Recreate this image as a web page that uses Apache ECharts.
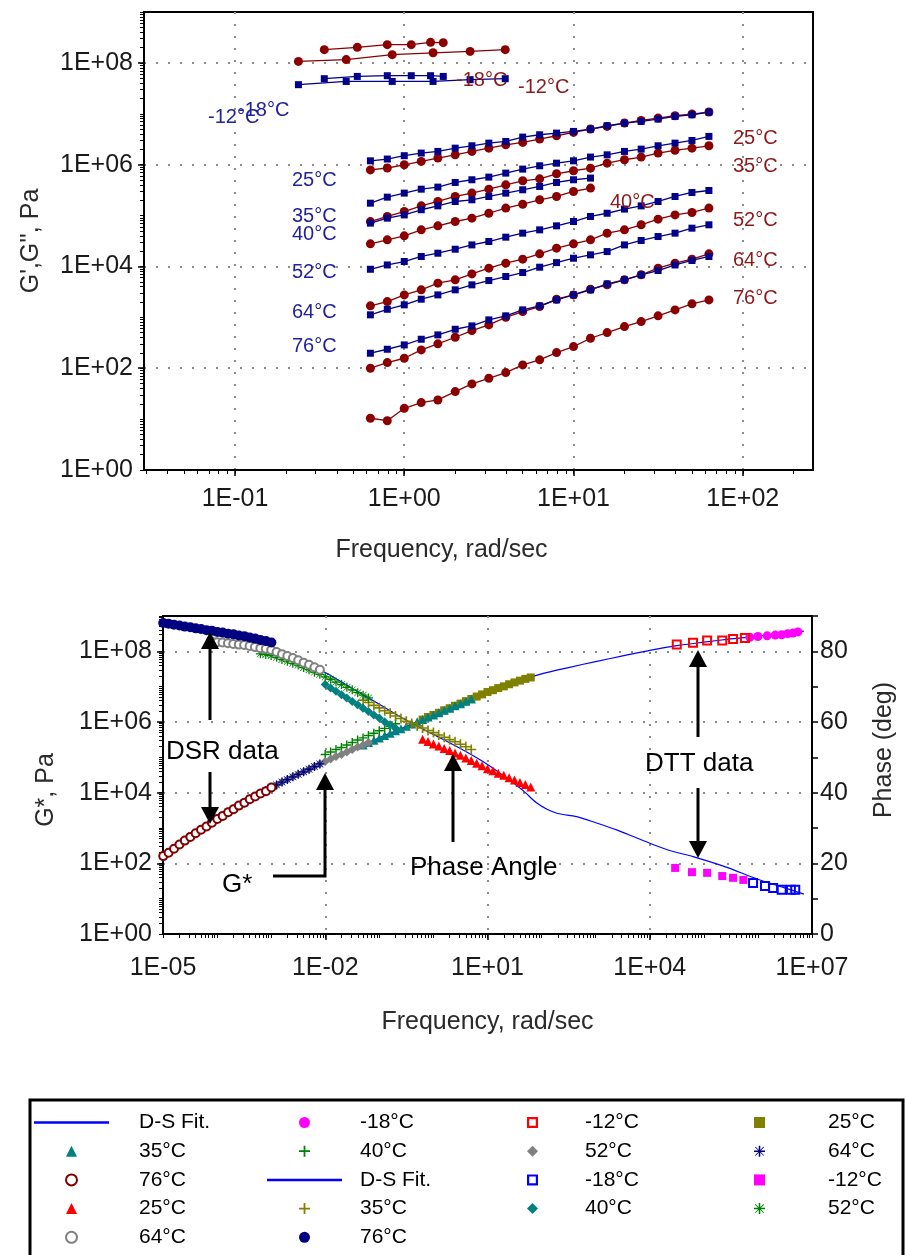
<!DOCTYPE html>
<html>
<head>
<meta charset="utf-8">
<title>DSR / DTT frequency sweeps and master curves</title>
<script src="https://cdn.jsdelivr.net/npm/echarts@6.0.0/dist/echarts.min.js"></script>
<style>
html,body{margin:0;padding:0;background:#ffffff;}
#chart{width:906px;height:1255px;}
</style>
</head>
<body>
<div id="chart"></div>
<script>
// ================= TOP CHART DATA (G' red circles, G'' blue squares) =================
const freqDSR  = [0.631, 0.794, 1.0, 1.26, 1.58, 2.0, 2.51, 3.16, 3.98, 5.01, 6.31, 7.94, 10.0, 12.6, 15.8, 20.0, 25.1, 31.6, 39.8, 50.1, 63.1];
const freqDttA = [0.337, 0.528, 0.794, 1.10, 1.43, 1.70];   // -18°C sweep
const freqDttB = [0.237, 0.454, 0.849, 1.48, 2.45, 3.95];   // -12°C sweep

const gStoreM18 = [1.82e8, 2.02e8, 2.28e8, 2.28e8, 2.53e8, 2.50e8];
const gLossM18  = [4.89e7, 5.42e7, 5.60e7, 5.60e7, 5.60e7, 5.42e7];
const gStoreM12 = [1.07e8, 1.16e8, 1.45e8, 1.58e8, 1.68e8, 1.82e8];
const gLossM12  = [3.73e7, 4.32e7, 4.32e7, 4.32e7, 4.68e7, 4.89e7];

const gStore25 = [7.9e5, 8.6e5, 9.95e5, 1.16e6, 1.35e6, 1.56e6, 1.82e6, 2.11e6, 2.46e6, 2.74e6, 3.18e6, 3.70e6, 4.31e6, 5.00e6, 5.65e6, 6.56e6, 7.41e6, 8.22e6, 9.14e6, 9.86e6, 1.08e7];
const gLoss25  = [1.19e6, 1.29e6, 1.50e6, 1.69e6, 1.82e6, 2.11e6, 2.35e6, 2.65e6, 2.86e6, 3.48e6, 3.87e6, 4.17e6, 4.50e6, 5.00e6, 5.82e6, 6.56e6, 7.08e6, 7.87e6, 8.87e6, 9.57e6, 1.08e7];
const gStore35 = [7.6e4, 9.6e4, 1.20e5, 1.55e5, 1.89e5, 2.37e5, 2.76e5, 3.30e5, 4.02e5, 4.82e5, 5.27e5, 6.62e5, 7.59e5, 8.55e5, 1.07e6, 1.25e6, 1.41e6, 1.69e6, 1.91e6, 2.11e6, 2.35e6];
const gLoss35  = [1.75e5, 2.30e5, 2.76e5, 3.30e5, 3.62e5, 4.47e5, 5.05e5, 5.69e5, 6.82e5, 8.18e5, 9.51e5, 1.07e6, 1.19e6, 1.41e6, 1.56e6, 1.82e6, 2.02e6, 2.35e6, 2.65e6, 2.99e6, 3.59e6];
const gStore40 = [2.78e4, 3.33e4, 3.99e4, 5.24e4, 6.28e4, 7.64e4, 8.89e4, 1.11e5, 1.40e5, 1.67e5, 2.04e5, 2.37e5, 2.97e5, 3.46e5];
const gLoss40  = [7.1e4, 8.9e4, 1.03e5, 1.30e5, 1.55e5, 1.89e5, 2.04e5, 2.37e5, 2.76e5, 3.21e5, 3.73e5, 4.47e5, 5.05e5, 5.45e5];
const gStore52 = [1.68e3, 2.04e3, 2.76e3, 3.47e3, 4.69e3, 5.45e3, 7.14e3, 9.25e3, 1.16e4, 1.39e4, 1.77e4, 2.29e4, 2.78e4, 3.33e4, 4.51e4, 5.24e4, 6.58e4, 8.49e4, 1.03e5, 1.15e5, 1.40e5];
const gLoss52  = [8.8e3, 1.07e4, 1.25e4, 1.57e4, 1.82e4, 2.18e4, 2.65e4, 3.09e4, 3.76e4, 4.51e4, 5.24e4, 6.28e4, 7.64e4, 9.6e4, 1.11e5, 1.34e5, 1.55e5, 1.89e5, 2.37e5, 2.84e5, 3.11e5];
const gStore64 = [100, 129, 157, 229, 301, 406, 550, 710, 1000, 1300, 1630, 2270, 2760, 3570, 4350, 5450, 6840, 9250, 11600, 13900, 17700];
const gLoss64  = [1120, 1440, 1760, 2270, 2760, 3470, 4350, 5280, 6340, 7590, 9660, 11900, 14500, 16900, 19600, 26500, 32400, 38700, 45100, 56500, 65800];
const gStore76 = [10.4, 9.3, 16.3, 21.1, 23.8, 34.7, 49.1, 63.4, 82.0, 116, 146, 203, 266, 388, 501, 658, 826, 1070, 1400, 1840, 2200];
const gLoss76  = [197, 236, 287, 371, 452, 583, 679, 891, 1070, 1400, 1680, 2200, 2760, 3470, 4540, 5450, 6840, 8320, 10700, 13100, 15700];

// ================= BOTTOM CHART DATA (master curves, reduced frequency) =================
// shift factors aT (reference 25°C)
const aT76 = 1.6e-5, aT64 = 1.26e-4, aT52 = 1.0e-3, aT40 = 1.58e-2, aT35 = 7.94e-2, aT25 = 1.0;

const gStar76 = [160, 200, 260, 340, 440, 560, 710, 890, 1100, 1400, 1800, 2200, 2800, 3400, 4300, 5200, 6500, 7800, 9500, 11000, 14000];
const gStar64 = [1400, 1800, 2200, 2800, 3400, 4300, 5200, 6500, 7800, 9500, 11500, 14000, 16600, 20000, 23400, 28000, 33000, 39000, 46000, 55000, 65000];
const gStar52 = [9500, 11500, 14000, 16600, 20000, 23400, 28000, 33000, 39000, 46000, 55000, 65000, 76000, 89000, 105000, 120000, 141000, 166000, 195000, 224000, 263000];
const gStar40 = [120000, 141000, 166000, 190000, 224000, 263000, 309000, 355000, 417000, 479000, 562000, 661000, 759000, 891000];
const gStar35 = [224000, 263000, 302000, 355000, 417000, 479000, 562000, 646000, 759000, 871000, 1020000, 1170000, 1380000, 1580000, 1820000, 2140000, 2450000, 2880000, 3310000, 3890000, 4470000];
const gStar25 = [1.17e6, 1.38e6, 1.58e6, 1.82e6, 2.14e6, 2.45e6, 2.88e6, 3.31e6, 3.89e6, 4.47e6, 5.25e6, 6.03e6, 7.08e6, 7.94e6, 9.12e6, 1.02e7, 1.17e7, 1.32e7, 1.48e7, 1.66e7, 1.82e7];

const phase76 = [88.0, 87.8, 87.5, 87.3, 87.0, 86.8, 86.5, 86.3, 86.0, 85.8, 85.5, 85.3, 85.0, 84.8, 84.5, 84.3, 83.9, 83.6, 83.2, 82.9, 82.5];
const phase64 = [82.8, 82.6, 82.5, 82.3, 82.1, 81.9, 81.8, 81.5, 81.2, 80.9, 80.7, 80.4, 79.8, 79.2, 78.7, 78.1, 77.5, 76.8, 76.2, 75.5, 74.8];
const phase52 = [79.3, 79.1, 78.8, 78.3, 77.7, 77.2, 76.6, 76.1, 75.4, 74.8, 74.1, 73.5, 72.8, 72.1, 71.3, 70.6, 69.8, 69.1, 68.3, 67.6, 66.8];
const phase40 = [70.6, 69.6, 68.7, 67.7, 66.8, 65.8, 64.9, 63.9, 63.0, 62.0, 61.1, 60.1, 59.2, 58.2];
const phase35 = [66.2, 65.5, 64.7, 64.0, 63.2, 62.5, 61.7, 61.0, 60.2, 59.6, 58.9, 58.3, 57.6, 57.0, 56.3, 55.7, 55.0, 54.4, 53.7, 53.0, 52.2];
const phase25 = [55.1, 54.5, 53.8, 53.2, 52.5, 51.9, 51.2, 50.6, 49.8, 49.1, 48.3, 47.6, 46.8, 46.2, 45.5, 44.9, 44.2, 43.6, 42.9, 42.3, 41.6];

// DTT data
const dttFreqM18G  = [7.08e5, 1.0e6, 1.48e6, 2.09e6, 2.75e6, 3.55e6, 4.47e6, 5.50e6];
const dttGStarM18  = [2.51e8, 2.63e8, 2.75e8, 2.88e8, 2.95e8, 3.16e8, 3.31e8, 3.55e8];
const dttFreqM12G  = [3.16e4, 6.31e4, 1.15e5, 2.19e5, 3.47e5, 5.75e5];
const dttGStarM12  = [1.55e8, 1.74e8, 2.04e8, 2.04e8, 2.24e8, 2.40e8];
const dttFreqM18P  = [8.13e5, 1.35e6, 1.91e6, 2.75e6, 4.07e6, 4.90e6];
const dttPhaseM18  = [14.4, 13.6, 13.0, 12.5, 12.5, 12.5];
const dttFreqM12P  = [2.95e4, 6.03e4, 1.15e5, 2.19e5, 3.47e5, 5.37e5];
const dttPhaseM12  = [18.7, 17.5, 17.3, 16.4, 15.9, 15.3];

// D-S fit curves
const fitFreqG  = [1e-5, 3.16e-5, 1e-4, 3.16e-4, 1e-3, 3.16e-3, 1e-2, 3.16e-2, 0.1, 0.316, 1, 3.16, 10, 31.6, 100, 316, 1000, 3162, 1e4, 3.16e4, 1e5, 3.16e5, 1e6, 3.16e6, 7.08e6];
const fitGStar  = [160, 560, 1800, 5200, 14000, 33000, 76000, 1.66e5, 3.55e5, 7.6e5, 1.58e6, 3.31e6, 7.08e6, 1.32e7, 2.29e7, 3.47e7, 5.13e7, 7.41e7, 1.07e8, 1.45e8, 1.82e8, 2.24e8, 2.69e8, 3.24e8, 3.72e8];
const fitFreqP  = [1e-5, 3.16e-5, 1e-4, 3.16e-4, 1e-3, 3.16e-3, 1e-2, 3.16e-2, 0.1, 0.316, 1, 3.16, 10, 31.6, 50.1, 79.4, 126, 200, 447, 1000, 2512, 1e4, 2.51e4, 6.31e4, 2.51e5, 1e6, 2.51e6, 7.08e6];
const fitPhase  = [88.0, 86.5, 85.0, 83.5, 81.5, 78.0, 74.0, 69.5, 65.0, 60.5, 56.5, 52.5, 48.0, 42.5, 40.0, 37.2, 35.3, 34.1, 33.2, 31.5, 29.4, 25.7, 23.5, 21.9, 19.0, 15.5, 13.5, 11.3];

// tick label values
const topXLabelValues = [0.1, 1, 10, 100];
const topYLabelValues = [1, 1e2, 1e4, 1e6, 1e8];
const topYGridValues  = [1e2, 1e4, 1e6, 1e8];
const botXLabelValues = [1e-5, 1e-2, 1e1, 1e4, 1e7];
const botXGridValues  = [1e-2, 1e1, 1e4];
const botYLabelValues = [1, 1e2, 1e4, 1e6, 1e8];
const phaseLabelValues = [0, 20, 40, 60, 80];

// legend columns (display order, column by column)
const legendCol1 = ['G* D-S Fit.', 'G* 35°C', 'G* 76°C', 'Phase 25°C', 'Phase 64°C'];
const legendCol2 = ['G* -18°C', 'G* 40°C', 'Phase D-S Fit.', 'Phase 35°C', 'Phase 76°C'];
const legendCol3 = ['G* -12°C', 'G* 52°C', 'Phase -18°C', 'Phase 40°C'];
const legendCol4 = ['G* 25°C', 'G* 64°C', 'Phase -12°C', 'Phase 52°C'];

// ================= helpers =================
const FONT = "'Liberation Sans', Arial, Helvetica, sans-serif";
function pairs(xs, ys) { return ys.map((y, i) => [xs[i], y]); }
function reduced(aT, n) { return freqDSR.slice(0, n).map(f => f * aT); }
function expLabel(v) {
  const e = Math.round(Math.log10(v));
  return '1E' + (e < 0 ? '-' : '+') + String(Math.abs(e)).padStart(2, '0');
}
function minorTicks(lo, hi) {
  const out = [];
  for (let k = -6; k <= 9; k++) for (let m = 1; m <= 9; m++) {
    const v = +(m * Math.pow(10, k)).toPrecision(6);
    if (v >= lo * 0.9999 && v <= hi * 1.0001) out.push(v);
  }
  return out;
}

const SYM_SQ   = 'path://M0,0L10,0L10,10L0,10Z';
const SYM_OSQ  = 'path://M0,0L10,0L10,10L0,10ZM2,2L2,8L8,8L8,2Z';
const SYM_TRI  = 'path://M5,0L10,10L0,10Z';
const SYM_DIA  = 'path://M5,0L10,5L5,10L0,5Z';
const SYM_PLUS = 'path://M4.2,0L5.8,0L5.8,10L4.2,10ZM0,4.2L10,4.2L10,5.8L0,5.8Z';
const SYM_STAR = 'path://M4.3,0L5.7,0L5.7,10L4.3,10ZM0,4.3L10,4.3L10,5.7L0,5.7ZM1.4,0.9L9.1,8.6L8.6,9.1L0.9,1.4ZM8.6,0.9L9.1,1.4L1.4,9.1L0.9,8.6Z';
const ICON_LINE = 'path://M0,0L75,0L75,2.5L0,2.5Z';

const RED_T = '#8b0000', BLUE_T = '#00008b';

// ================= series =================
const series = [];
function topLine(name, xs, ys, isStorage) {
  series.push({
    name, type: 'line', xAxisIndex: 0, yAxisIndex: 0,
    data: pairs(xs, ys),
    symbol: isStorage ? 'circle' : 'rect',
    symbolSize: isStorage ? 9 : 7,
    showSymbol: true,
    lineStyle: { color: isStorage ? RED_T : BLUE_T, width: 1.3 },
    itemStyle: { color: isStorage ? RED_T : BLUE_T },
    z: 3
  });
}
topLine("top G' -18", freqDttA, gStoreM18, true);
topLine("top G'' -18", freqDttA, gLossM18, false);
topLine("top G' -12", freqDttB, gStoreM12, true);
topLine("top G'' -12", freqDttB, gLossM12, false);
topLine("top G' 25", freqDSR, gStore25, true);
topLine("top G'' 25", freqDSR, gLoss25, false);
topLine("top G' 35", freqDSR, gStore35, true);
topLine("top G'' 35", freqDSR, gLoss35, false);
topLine("top G' 40", freqDSR.slice(0, 14), gStore40, true);
topLine("top G'' 40", freqDSR.slice(0, 14), gLoss40, false);
topLine("top G' 52", freqDSR, gStore52, true);
topLine("top G'' 52", freqDSR, gLoss52, false);
topLine("top G' 64", freqDSR, gStore64, true);
topLine("top G'' 64", freqDSR, gLoss64, false);
topLine("top G' 76", freqDSR, gStore76, true);
topLine("top G'' 76", freqDSR, gLoss76, false);

function fitLine(name, xs, ys, yIdx) {
  series.push({
    name, type: 'line', xAxisIndex: 2, yAxisIndex: yIdx,
    data: pairs(xs, ys), symbol: 'none', smooth: 0.3,
    lineStyle: { color: '#0000ff', width: 1.2 }, itemStyle: { color: '#0000ff' }, z: 2
  });
}
function scat(name, xs, ys, yIdx, sym, color, size) {
  const s = {
    name, type: 'scatter', xAxisIndex: 2, yAxisIndex: yIdx,
    data: pairs(xs, ys), symbol: sym, symbolSize: size || 7,
    itemStyle: { color: color, opacity: 1 }, z: 3
  };
  if (sym === 'emptyCircle') s.itemStyle.borderWidth = 1.6;
  series.push(s);
}
fitLine('G* D-S Fit.', fitFreqG, fitGStar, 2);
scat('G* -18°C', dttFreqM18G, dttGStarM18, 2, 'circle', '#ff00ff', 9);
scat('G* -12°C', dttFreqM12G, dttGStarM12, 2, SYM_OSQ, '#ff0000', 10);
scat('G* 25°C', reduced(aT25, 21), gStar25, 2, SYM_SQ, '#808000', 8);
scat('G* 35°C', reduced(aT35, 21), gStar35, 2, SYM_TRI, '#008080', 9);
scat('G* 40°C', reduced(aT40, 14), gStar40, 2, SYM_PLUS, '#008000', 9);
scat('G* 52°C', reduced(aT52, 21), gStar52, 2, SYM_DIA, '#808080', 9);
scat('G* 64°C', reduced(aT64, 21), gStar64, 2, SYM_STAR, '#000080', 9);
scat('G* 76°C', reduced(aT76, 21), gStar76, 2, 'emptyCircle', '#800000', 8);
fitLine('Phase D-S Fit.', fitFreqP, fitPhase, 4);
scat('Phase -18°C', dttFreqM18P, dttPhaseM18, 4, SYM_OSQ, '#0000ff', 10);
scat('Phase -12°C', dttFreqM12P, dttPhaseM12, 4, SYM_SQ, '#ff00ff', 8);
scat('Phase 25°C', reduced(aT25, 21), phase25, 4, SYM_TRI, '#ff0000', 9);
scat('Phase 35°C', reduced(aT35, 21), phase35, 4, SYM_PLUS, '#808000', 10);
scat('Phase 40°C', reduced(aT40, 14), phase40, 4, SYM_DIA, '#008080', 9);
scat('Phase 52°C', reduced(aT52, 21), phase52, 4, SYM_STAR, '#008000', 9);
scat('Phase 64°C', reduced(aT64, 21), phase64, 4, 'emptyCircle', '#808080', 8);
scat('Phase 76°C', reduced(aT76, 21), phase76, 4, 'circle', '#000080', 10);

// ================= axes =================
const dotted = { show: true, lineStyle: { color: '#8c8c8c', width: 2, type: [2, 10] } };
const axisTxt = { fontFamily: FONT, fontSize: 25, color: '#1a1a1a' };
const nameTxt = { fontFamily: FONT, fontSize: 25, color: '#2a2a2a' };

function mainLogAxis(o) {
  return Object.assign({
    type: 'log', logBase: 10,
    axisLine: { show: true, onZero: false, lineStyle: { color: '#000', width: 2 } },
    axisTick: { show: true, length: 6, customValues: o.grid, lineStyle: { color: '#000', width: 1.5 } },
    axisLabel: Object.assign({ customValues: o.labels, formatter: expLabel, margin: o.margin }, axisTxt),
    splitLine: dotted
  }, o.extra);
}
function minorLogAxis(o) {
  return Object.assign({
    type: 'log', logBase: 10,
    axisLine: { show: false, onZero: false },
    axisTick: { show: true, length: 4, customValues: minorTicks(o.min, o.max), lineStyle: { color: '#000', width: 1 } },
    axisLabel: { show: false }, splitLine: { show: false }
  }, o.extra);
}

const xAxis = [
  mainLogAxis({ grid: topXLabelValues, labels: topXLabelValues, margin: 17, extra: {
    gridIndex: 0, position: 'bottom', min: 0.029, max: 260,
    name: 'Frequency, rad/sec', nameLocation: 'middle', nameGap: 68,
    nameTextStyle: Object.assign({ padding: [0, 74, 0, 0] }, nameTxt) } }),
  minorLogAxis({ min: 0.029, max: 260, extra: { gridIndex: 0, position: 'bottom', min: 0.029, max: 260 } }),
  mainLogAxis({ grid: botXGridValues, labels: botXLabelValues, margin: 22, extra: {
    gridIndex: 1, position: 'bottom', min: 1e-5, max: 1e7,
    name: 'Frequency, rad/sec', nameLocation: 'middle', nameGap: 76,
    nameTextStyle: nameTxt } }),
  minorLogAxis({ min: 1e-5, max: 1e7, extra: { gridIndex: 1, position: 'bottom', min: 1e-5, max: 1e7 } })
];
const yAxis = [
  mainLogAxis({ grid: topYGridValues, labels: topYLabelValues, margin: 11, extra: {
    gridIndex: 0, position: 'left', min: 1, max: 1e9,
    name: "G',G'', Pa", nameLocation: 'middle', nameGap: 100, nameTextStyle: nameTxt } }),
  minorLogAxis({ min: 1, max: 1e9, extra: { gridIndex: 0, position: 'left', min: 1, max: 1e9 } }),
  mainLogAxis({ grid: topYGridValues, labels: botYLabelValues, margin: 11, extra: {
    gridIndex: 1, position: 'left', min: 1, max: 1e9,
    name: 'G*, Pa', nameLocation: 'middle', nameGap: 104,
    nameTextStyle: Object.assign({ padding: [0, 30, 0, 0] }, nameTxt) } }),
  minorLogAxis({ min: 1, max: 1e9, extra: { gridIndex: 1, position: 'left', min: 1, max: 1e9 } }),
  {
    gridIndex: 1, type: 'value', position: 'right', min: 0, max: 90, interval: 10,
    axisLine: { show: true, onZero: false, lineStyle: { color: '#000', width: 2 } },
    axisTick: { show: true, length: 6, lineStyle: { color: '#000', width: 1.5 } },
    axisLabel: Object.assign({ customValues: phaseLabelValues, margin: 8 }, axisTxt),
    splitLine: { show: false },
    name: 'Phase (deg)', nameLocation: 'middle', nameGap: 60,
    nameTextStyle: Object.assign({ padding: [0, 0, 0, 50] }, nameTxt)
  }
];

// ================= legend (four columns) =================
function legendColumn(names, left, textPad) {
  return {
    data: names.map(n => (/D-S Fit/.test(n) ? { name: n, icon: ICON_LINE } : { name: n })),
    left: left, top: 1112, padding: 0,
    orient: 'vertical', itemWidth: 75, itemHeight: 11, itemGap: 7.7,
    selectedMode: false,
    formatter: n => n.replace(/^(G\*|Phase) /, ''),
    textStyle: { fontFamily: FONT, fontSize: 21, color: '#000', padding: [0, 0, 0, textPad] }
  };
}
const legend = [
  legendColumn(legendCol1, 34, 25),
  legendColumn(legendCol2, 267, 13),
  legendColumn(legendCol3, 527, 10),
  legendColumn(legendCol4, 754, 26)
];

// ================= annotations =================
const BLUE_LBL = '#22229a', RED_LBL = '#8b1a1a';
function txt(t, x, y, color, size, align) {
  return { type: 'text', x, y, z: 50, silent: true,
    style: { text: t, fill: color, font: size + 'px ' + FONT, textAlign: align || 'left', textVerticalAlign: 'middle' } };
}
function arrowV(x, yTail, yTip) {
  const dir = yTip < yTail ? 1 : -1;   // 1: pointing up
  const base = yTip + dir * 17;
  return [
    { type: 'line', z: 50, silent: true, shape: { x1: x, y1: yTail, x2: x, y2: base }, style: { stroke: '#000', lineWidth: 3 } },
    { type: 'polygon', z: 50, silent: true, shape: { points: [[x, yTip], [x - 9, base], [x + 9, base]] }, style: { fill: '#000' } }
  ];
}
const graphics = [
  // top chart labels
  txt('25°C', 292, 180, BLUE_LBL, 20), txt('35°C', 292, 216, BLUE_LBL, 20), txt('40°C', 292, 234, BLUE_LBL, 20),
  txt('52°C', 292, 272, BLUE_LBL, 20), txt('64°C', 292, 312, BLUE_LBL, 20), txt('76°C', 292, 346, BLUE_LBL, 20),
  txt('-12°C', 208, 117, BLUE_LBL, 20), txt('-18°C', 238, 110, BLUE_LBL, 20),
  txt('25°C', 733, 138, RED_LBL, 20), txt('35°C', 733, 166, RED_LBL, 20), txt('52°C', 733, 220, RED_LBL, 20),
  txt('64°C', 733, 260, RED_LBL, 20), txt('76°C', 733, 298, RED_LBL, 20), txt('40°C', 610, 202, RED_LBL, 20),
  txt('-18°C', 456, 80, RED_LBL, 20), txt('-12°C', 518, 87, RED_LBL, 20),
  // bottom chart annotations
  txt('DSR data', 166, 752, '#000', 26), txt('G*', 222, 885, '#000', 26),
  txt('Phase Angle', 410, 868, '#000', 26), txt('DTT data', 645, 764, '#000', 26),
  ...arrowV(210, 720, 632), ...arrowV(210, 772, 824),
  { type: 'polyline', z: 50, silent: true, shape: { points: [[273, 876], [325, 876], [325, 790]] }, style: { stroke: '#000', lineWidth: 3, fill: null } },
  { type: 'polygon', z: 50, silent: true, shape: { points: [[325, 773], [316, 790], [334, 790]] }, style: { fill: '#000' } },
  ...arrowV(453, 842, 754),
  ...arrowV(698, 737, 650), ...arrowV(698, 788, 858),
  // legend frame
  { type: 'rect', z: 0, silent: true, shape: { x: 30, y: 1100, width: 873, height: 200 }, style: { fill: null, stroke: '#000', lineWidth: 3 } }
];

const chart = echarts.init(document.getElementById('chart'), null, { renderer: 'canvas' });
chart.setOption({
  backgroundColor: '#ffffff',
  animation: false,
  textStyle: { fontFamily: FONT },
  grid: [
    { left: 144, top: 12, width: 669, height: 458, show: true, borderColor: '#000', borderWidth: 2, backgroundColor: 'transparent', containLabel: false, outerBoundsMode: 'none' },
    { left: 163, top: 616, width: 649, height: 318, show: true, borderColor: '#000', borderWidth: 2, backgroundColor: 'transparent', containLabel: false, outerBoundsMode: 'none' }
  ],
  xAxis, yAxis, series, legend,
  graphic: { elements: graphics }
});
</script>
</body>
</html>
